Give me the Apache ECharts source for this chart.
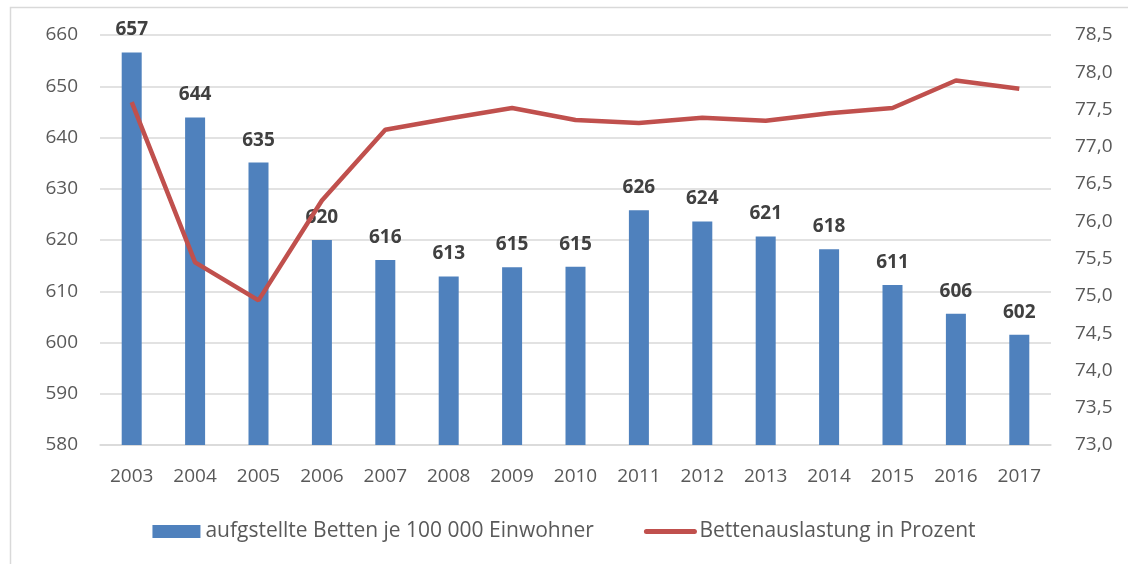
<!DOCTYPE html>
<html>
<head>
<meta charset="utf-8">
<script src="https://cdn.jsdelivr.net/npm/echarts@6/dist/echarts.min.js"></script>
<style>html,body{margin:0;padding:0;background:#fff}#c{width:1128px;height:564px}</style>
</head>
<body>
<div id="c"></div>
<script>
const years = ['2003','2004','2005','2006','2007','2008','2009','2010','2011','2012','2013','2014','2015','2016','2017'];
const betten = [656.6, 643.9, 635.1, 620.0, 616.1, 612.9, 614.7, 614.8, 625.8, 623.6, 620.7, 618.2, 611.2, 605.6, 601.5];
const auslastung = [77.6, 75.45, 74.94, 76.28, 77.23, 77.38, 77.52, 77.36, 77.32, 77.39, 77.35, 77.45, 77.52, 77.89, 77.78];
const barName = 'aufgstellte Betten je 100 000 Einwohner';
const lineName = 'Bettenauslastung in Prozent';

const font = 'Open Sans, Noto Sans, sans-serif';
const chart = echarts.init(document.getElementById('c'));
chart.setOption({
  animation: false,
  graphic: [{
    type: 'rect', left: 8, top: 5, silent: true,
    shape: {width: 1140, height: 580},
    style: {fill: 'none', stroke: '#d9d9d9', lineWidth: 1.5}
  }],
  grid: {left: 100, right: 77, top: 35, bottom: 119},
  legend: {
    bottom: 17, left: 'center', itemGap: 50, itemWidth: 48, itemHeight: 13,
    textStyle: {fontFamily: font, fontSize: 21, color: '#595959'},
    data: [
      {name: barName, icon: 'rect'},
      {name: lineName, itemStyle: {opacity: 0}, lineStyle: {width: 5, cap: 'round', color: '#c0504d'}}
    ]
  },
  xAxis: {
    type: 'category', data: years,
    axisTick: {show: false},
    axisLine: {lineStyle: {color: '#d9d9d9', width: 1.5}},
    axisLabel: {fontFamily: font, fontSize: 19, color: '#595959', margin: 22}
  },
  yAxis: [{
    type: 'value', min: 580, max: 660, interval: 10,
    axisLine: {show: false}, axisTick: {show: false},
    splitLine: {lineStyle: {color: '#d9d9d9', width: 1.5}},
    axisLabel: {fontFamily: font, fontSize: 19, color: '#595959', margin: 22}
  }, {
    type: 'value', min: 73, max: 78.5, interval: 0.5,
    axisLine: {show: false}, axisTick: {show: false}, splitLine: {show: false},
    axisLabel: {fontFamily: font, fontSize: 19, color: '#595959', margin: 24,
      formatter: v => v.toFixed(1).replace('.', ',')}
  }],
  series: [{
    name: barName, type: 'bar', data: betten, yAxisIndex: 0,
    barWidth: 20,
    itemStyle: {color: '#4f81bd'},
    label: {show: true, position: 'top', distance: 13, fontFamily: font, fontSize: 19,
      fontWeight: 'bold', color: '#404040', formatter: p => Math.round(p.value)}
  }, {
    name: lineName, type: 'line', data: auslastung, yAxisIndex: 1,
    symbol: 'none', lineStyle: {color: '#c0504d', width: 4.5},
    itemStyle: {color: '#c0504d'}
  }]
});
</script>
</body>
</html>
